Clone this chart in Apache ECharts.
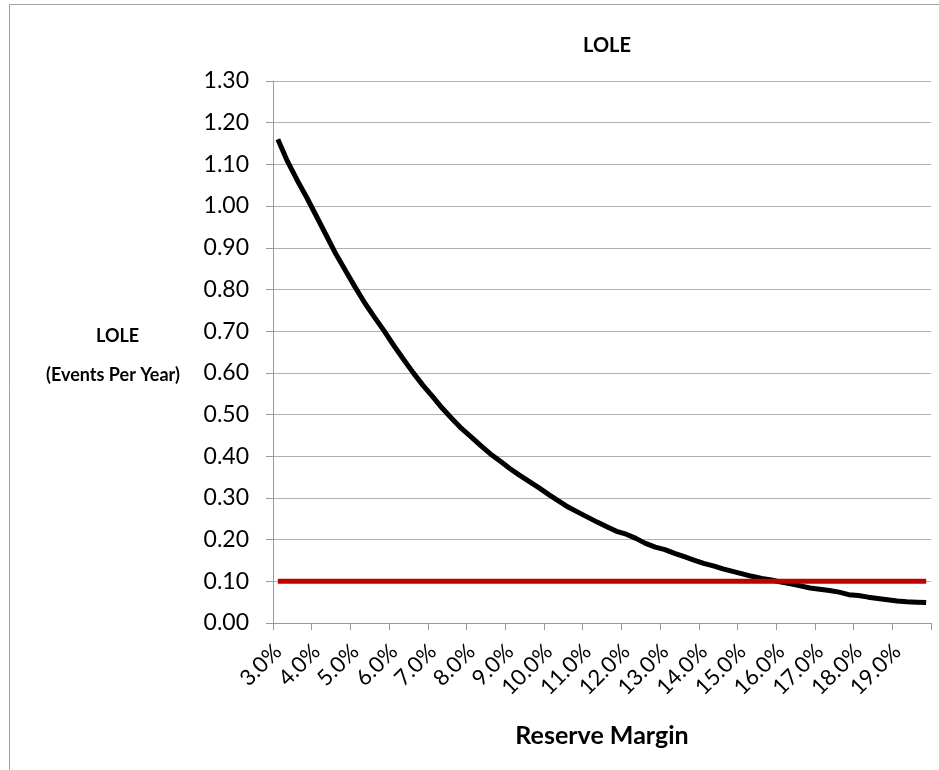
<!DOCTYPE html>
<html>
<head>
<meta charset="utf-8">
<script src="https://cdn.jsdelivr.net/npm/echarts@6/dist/echarts.min.js"></script>
<style>
  html, body { margin: 0; padding: 0; background: #fff; }
  #chart { width: 939px; height: 770px; }
</style>
</head>
<body>
<div id="chart"></div>
<script>
// reserve margin categories (quarter-percent steps)
const reserveMargin = [
  '3.0%', '3.25%', '3.5%', '3.75%', '4.0%', '4.25%', '4.5%', '4.75%',
  '5.0%', '5.25%', '5.5%', '5.75%', '6.0%', '6.25%', '6.5%', '6.75%',
  '7.0%', '7.25%', '7.5%', '7.75%', '8.0%', '8.25%', '8.5%', '8.75%',
  '9.0%', '9.25%', '9.5%', '9.75%', '10.0%', '10.25%', '10.5%', '10.75%',
  '11.0%', '11.25%', '11.5%', '11.75%', '12.0%', '12.25%', '12.5%', '12.75%',
  '13.0%', '13.25%', '13.5%', '13.75%', '14.0%', '14.25%', '14.5%', '14.75%',
  '15.0%', '15.25%', '15.5%', '15.75%', '16.0%', '16.25%', '16.5%', '16.75%',
  '17.0%', '17.25%', '17.5%', '17.75%', '18.0%', '18.25%', '18.5%', '18.75%',
  '19.0%', '19.25%', '19.5%', '19.75%'
];

// LOLE, events per year
const loleValues = [
  1.16, 1.107, 1.062, 1.02, 0.975, 0.93, 0.885, 0.845,
  0.805, 0.767, 0.733, 0.70, 0.665, 0.632, 0.60, 0.57,
  0.543, 0.515, 0.49, 0.466, 0.446, 0.425, 0.405, 0.388,
  0.370, 0.354, 0.339, 0.324, 0.308, 0.293, 0.278, 0.266,
  0.254, 0.242, 0.231, 0.220, 0.213, 0.203, 0.191, 0.182,
  0.176, 0.167, 0.159, 0.151, 0.143, 0.137, 0.130, 0.124,
  0.118, 0.112, 0.107, 0.103, 0.098, 0.094, 0.089, 0.084,
  0.081, 0.078, 0.074, 0.068, 0.066, 0.062, 0.059, 0.056,
  0.053, 0.051, 0.050, 0.049
];

// 1 day in 10 years criterion
const criterion = reserveMargin.map(() => 0.1);

const tickFont = 'Lato, "Open Sans", sans-serif';
const boldFont = 'Lato, "Open Sans", sans-serif';

const chart = echarts.init(document.getElementById('chart'));

chart.setOption({
  animation: false,
  backgroundColor: '#fff',
  title: {
    text: 'LOLE',
    left: 602,
    top: 31,
    textAlign: 'center',
    textStyle: { fontFamily: boldFont, fontWeight: 'bold', fontSize: 20, color: '#000' }
  },
  grid: { left: 273, right: 8, top: 81, bottom: 147, containLabel: false },
  xAxis: {
    type: 'category',
    data: reserveMargin,
    boundaryGap: true,
    name: 'Reserve Margin',
    nameLocation: 'middle',
    nameGap: 100,
    nameTextStyle: { fontFamily: boldFont, fontWeight: 'bold', fontSize: 25, color: '#000' },
    axisLine: { lineStyle: { color: '#9a9a9a', width: 1 } },
    axisTick: { show: true, interval: 3, length: 7, lineStyle: { color: '#9a9a9a' } },
    axisLabel: {
      interval: 3,
      rotate: 45,
      margin: 25,
      fontFamily: tickFont,
      fontSize: 22,
      color: '#000',
      formatter: v => parseFloat(v).toFixed(1) + '%'
    },
    splitLine: { show: false }
  },
  yAxis: {
    type: 'value',
    min: 0,
    max: 1.3,
    interval: 0.1,
    axisLine: { show: true, lineStyle: { color: '#9a9a9a', width: 1 } },
    axisTick: { show: true, length: 7, lineStyle: { color: '#9a9a9a' } },
    axisLabel: {
      margin: 24,
      fontFamily: tickFont,
      fontSize: 23,
      color: '#000',
      formatter: v => v.toFixed(2)
    },
    splitLine: { lineStyle: { color: '#b0b0b0', width: 1 } }
  },
  graphic: [
    {
      type: 'rect',
      shape: { x: 9.5, y: 4.5, width: 960, height: 800 },
      style: { fill: 'none', stroke: '#a0a0a0', lineWidth: 1 },
      silent: true
    },
    {
      type: 'text',
      left: 96,
      top: 327,
      style: { text: 'LOLE', fontFamily: boldFont, fontWeight: 'bold', fontSize: 18, fill: '#000' }
    },
    {
      type: 'text',
      left: 46,
      top: 366,
      style: { text: '(Events Per Year)', fontFamily: boldFont, fontWeight: 'bold', fontSize: 18, fill: '#000' }
    }
  ],
  series: [
    {
      name: 'LOLE',
      type: 'line',
      data: loleValues,
      symbol: 'none',
      lineStyle: { color: '#000', width: 5 },
      z: 3
    },
    {
      name: 'Criterion',
      type: 'line',
      data: criterion,
      symbol: 'none',
      lineStyle: { color: '#c00000', width: 5 },
      z: 4
    }
  ]
});
</script>
</body>
</html>
